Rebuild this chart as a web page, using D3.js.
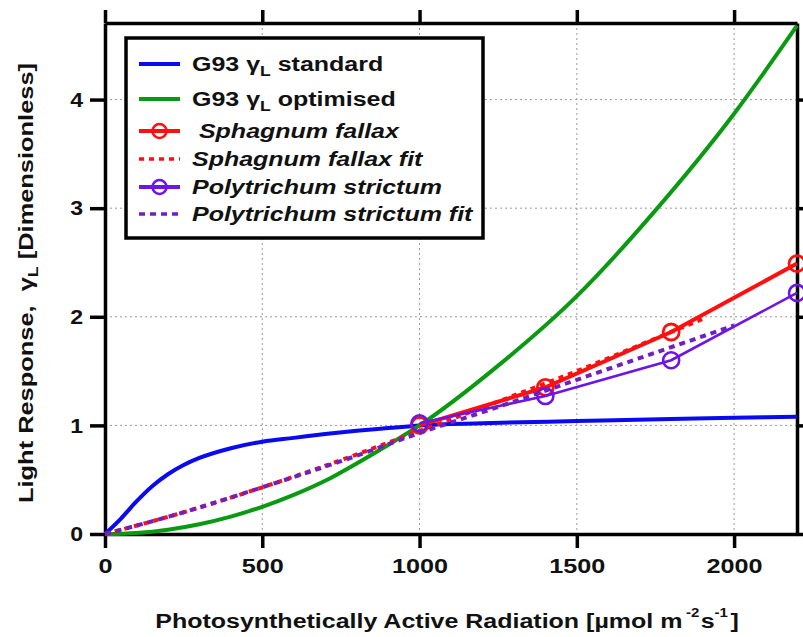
<!DOCTYPE html>
<html>
<head>
<meta charset="utf-8">
<script src="https://cdn.jsdelivr.net/npm/d3@7"></script>
<style>
  body { margin: 0; background: #fff; }
  text { font-family: Arial, "Liberation Sans", sans-serif; font-weight: bold; }
</style>
</head>
<body>
<div id="chart"></div>
<script>
// PAR values and light response
const stdPAR = [0, 50, 100, 150, 200, 250, 300, 400, 500, 600, 700, 800, 900, 1000, 1200, 1500, 1800, 2000, 2200];
const stdResp = [0, 0.14, 0.30, 0.44, 0.55, 0.635, 0.70, 0.79, 0.85, 0.885, 0.92, 0.95, 0.975, 1.0, 1.02, 1.04, 1.06, 1.07, 1.08];

const optPAR = [0, 100, 200, 300, 400, 500, 600, 700, 800, 900, 1000, 1250, 1500, 1750, 2000, 2200];
const optResp = [0, 0.01, 0.04, 0.09, 0.16, 0.25, 0.36, 0.49, 0.65, 0.82, 1.0, 1.55, 2.19, 2.98, 3.87, 4.68];

const obsPAR = [1000, 1400, 1800, 2200];
const sphagnum = [1.0, 1.35, 1.86, 2.49];
const polytrichum = [1.02, 1.27, 1.60, 2.22];

const sphFitPAR = [0, 250, 500, 750, 1000, 1250, 1500, 1750, 1900];
const sphFit = [0, 0.2, 0.43, 0.68, 0.95, 1.22, 1.5, 1.8, 1.98];
const polFitPAR = [0, 250, 500, 750, 1000, 1250, 1500, 1750, 2000];
const polFit = [0, 0.2, 0.43, 0.67, 0.93, 1.17, 1.42, 1.67, 1.92];

const xTicks = [0, 500, 1000, 1500, 2000];
const yTicks = [0, 1, 2, 3, 4];

const blue = "#0a0af0", green = "#0a9a12", red = "#ff1010", purple = "#6e14e6", purpleFit = "#7020c0";

// the original lettering is wider than Arial, so text gets stretched
const stretch = 1.25;

const margin = {top: 23, right: 6, bottom: 103, left: 105},
    width = 803 - margin.left - margin.right,
    height = 637 - margin.top - margin.bottom;

const svg = d3.select("#chart").append("svg").attr("width", 803).attr("height", 637);
const g = svg.append("g").attr("transform", "translate(" + margin.left + "," + margin.top + ")");

const x = d3.scaleLinear().domain([0, 2200]).range([0, width]);
const y = d3.scaleLinear().domain([0, 4.705]).range([height, 0]);

// dotted grid
g.append("g").selectAll("line").data(xTicks.slice(1)).enter().append("line")
    .attr("x1", d => x(d)).attr("x2", d => x(d)).attr("y1", 0).attr("y2", height)
    .attr("stroke", "#999").attr("stroke-width", 1).attr("stroke-dasharray", "2,3");
g.append("g").selectAll("line").data(yTicks.slice(1)).enter().append("line")
    .attr("y1", d => y(d)).attr("y2", d => y(d)).attr("x1", 0).attr("x2", width)
    .attr("stroke", "#999").attr("stroke-width", 1).attr("stroke-dasharray", "2,3");

// axes on all four sides
function styleAxis(sel) {
    sel.select(".domain").attr("stroke", "#000").attr("stroke-width", 3.5);
    sel.selectAll(".tick line").attr("stroke", "#000").attr("stroke-width", 3.5);
    sel.selectAll(".tick text").attr("font-size", 21).attr("fill", "#111");
}
g.append("g").attr("transform", "translate(0," + height + ")")
    .call(d3.axisBottom(x).tickValues(xTicks).tickFormat(d3.format("d")).tickSize(14).tickSizeOuter(0).tickPadding(10))
    .call(styleAxis)
    .selectAll(".tick text").attr("transform", "scale(1.2,1)");
g.append("g")
    .call(d3.axisTop(x).tickValues(xTicks).tickSize(13).tickSizeOuter(0).tickFormat(""))
    .call(styleAxis);
g.append("g")
    .call(d3.axisLeft(y).tickValues(yTicks).tickFormat(d3.format("d")).tickSize(15).tickSizeOuter(0).tickPadding(6))
    .call(styleAxis)
    .selectAll(".tick text").attr("x", -22 / 1.1).attr("transform", "scale(1.1,1)");
g.append("g").attr("transform", "translate(" + width + ",0)")
    .call(d3.axisRight(y).tickValues(yTicks).tickSize(15).tickSizeOuter(0).tickFormat(""))
    .call(styleAxis);

const line = d3.line().x(d => x(d[0])).y(d => y(d[1])).curve(d3.curveMonotoneX);
const straight = d3.line().x(d => x(d[0])).y(d => y(d[1]));

function zip(a, b) { return a.map((v, i) => [v, b[i]]); }

const plot = g.append("g");
plot.append("path").attr("d", line(zip(stdPAR, stdResp))).attr("fill", "none").attr("stroke", blue).attr("stroke-width", 4);
plot.append("path").attr("d", line(zip(optPAR, optResp))).attr("fill", "none").attr("stroke", green).attr("stroke-width", 4);

plot.append("path").attr("d", straight(zip(obsPAR, sphagnum))).attr("fill", "none").attr("stroke", red).attr("stroke-width", 4);
plot.append("g").selectAll("circle").data(zip(obsPAR, sphagnum)).enter().append("circle")
    .attr("cx", d => x(d[0])).attr("cy", d => y(d[1])).attr("r", 8)
    .attr("fill", "none").attr("stroke", red).attr("stroke-width", 2.8);
plot.append("path").attr("d", line(zip(sphFitPAR, sphFit))).attr("fill", "none").attr("stroke", red)
    .attr("stroke-width", 4).attr("stroke-dasharray", "5,5");

plot.append("path").attr("d", straight(zip(obsPAR, polytrichum))).attr("fill", "none").attr("stroke", purple).attr("stroke-width", 2.6);
plot.append("g").selectAll("circle").data(zip(obsPAR, polytrichum)).enter().append("circle")
    .attr("cx", d => x(d[0])).attr("cy", d => y(d[1])).attr("r", 8)
    .attr("fill", "none").attr("stroke", purple).attr("stroke-width", 2.6);
plot.append("path").attr("d", line(zip(polFitPAR, polFit))).attr("fill", "none").attr("stroke", purpleFit)
    .attr("stroke-width", 4).attr("stroke-dasharray", "6,5");

// legend
const leg = svg.append("g");
leg.append("rect").attr("x", 126).attr("y", 38).attr("width", 357).attr("height", 200)
    .attr("fill", "#fff").attr("stroke", "#000").attr("stroke-width", 3.5);

const legendItems = [
    {label: "standard", g93: true, color: blue, dash: null, marker: false, y: 64},
    {label: "optimised", g93: true, color: green, dash: null, marker: false, y: 99},
    {label: " Sphagnum fallax", color: red, dash: null, marker: true, y: 131},
    {label: "Sphagnum fallax fit", color: red, dash: "5,5", marker: false, y: 159},
    {label: "Polytrichum strictum", color: purple, dash: null, marker: true, y: 187},
    {label: "Polytrichum strictum fit", color: purpleFit, dash: "6,5", marker: false, y: 214}
];
legendItems.forEach(function (it) {
    leg.append("line").attr("x1", 139).attr("x2", 180).attr("y1", it.y).attr("y2", it.y)
        .attr("stroke", it.color).attr("stroke-width", it.dash ? 3.5 : 4).attr("stroke-dasharray", it.dash);
    if (it.marker) {
        leg.append("circle").attr("cx", 159.5).attr("cy", it.y).attr("r", 7)
            .attr("fill", "none").attr("stroke", it.color).attr("stroke-width", 2.6);
    }
    const t = leg.append("text").attr("transform", "translate(192," + (it.y + 7) + ") scale(" + stretch + ",1)")
        .attr("font-size", 20).attr("fill", "#111").attr("xml:space", "preserve");
    if (it.g93) {
        t.append("tspan").text("G93 \u03B3");
        t.append("tspan").attr("font-size", 14).attr("dy", 5).text("L");
        t.append("tspan").attr("dy", -5).text(" " + it.label);
    } else {
        t.attr("font-style", "italic").text(it.label);
    }
});

// axis titles
const xt = svg.append("text").attr("transform", "translate(447,628) scale(" + stretch + ",1)")
    .attr("text-anchor", "middle").attr("font-size", 20).attr("fill", "#111");
xt.append("tspan").text("Photosynthetically Active Radiation [\u00B5mol m");
xt.append("tspan").attr("font-size", 12).attr("dy", -11).attr("dx", 3).text("-2");
xt.append("tspan").attr("dy", 11).attr("dx", 1).text("s");
xt.append("tspan").attr("font-size", 12).attr("dy", -11).text("-1");
xt.append("tspan").attr("dy", 11).attr("dx", 2).text("]");

const yt = svg.append("text").attr("transform", "translate(33,283) rotate(-90) scale(1.27,1)").attr("text-anchor", "middle")
    .attr("font-size", 20).attr("fill", "#111").attr("xml:space", "preserve");
yt.append("tspan").text("Light Response,  \u03B3");
yt.append("tspan").attr("font-size", 14).attr("dy", 5).text("L");
yt.append("tspan").attr("dy", -5).text(" [Dimensionless]");
</script>
</body>
</html>
